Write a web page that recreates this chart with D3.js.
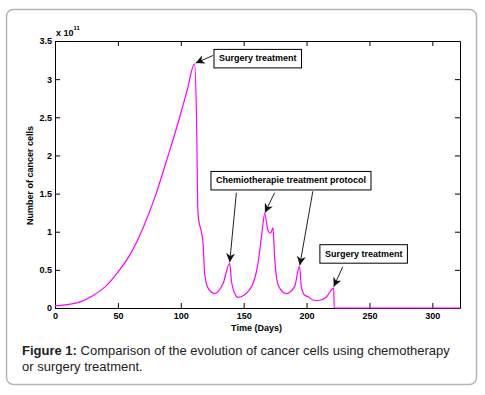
<!DOCTYPE html>
<html>
<head>
<meta charset="utf-8">
<script src="https://cdn.jsdelivr.net/npm/d3@7"></script>
<style>
  body { margin: 0; background: #fff; }
  text { font-family: "Liberation Sans", Arial, sans-serif; }
</style>
</head>
<body>
<script>
// Chart size
var w = 485;
var h = 395;

// Curve (days, cells in units of 1e11)
var days = [0, 10, 20, 30, 40, 50, 60, 70, 80, 90, 100, 105, 111,
    112.4, 113.7, 117.7, 119, 121.7, 127, 133.6, 138.9,
    140.2, 142.9, 145.5, 154.8, 161.4, 164.8, 166.7,
    169.3, 171.4, 173.3, 174.6, 176.4, 178.6, 183.9, 190.5, 194.4,
    195.8, 198.4, 201, 205, 209, 215.6, 221.6,
    222, 322];
var cells = [0.03, 0.045, 0.08, 0.16, 0.28, 0.47, 0.71, 1.05, 1.48, 2.0, 2.55, 2.85, 3.2,
    2.6, 1.24, 0.85, 0.45, 0.26, 0.19, 0.32, 0.585,
    0.37, 0.19, 0.14, 0.24, 0.585, 1.02, 1.24,
    1.02, 0.98, 1.05, 0.67, 0.37, 0.26, 0.19, 0.28, 0.55,
    0.28, 0.17, 0.15, 0.105, 0.095, 0.14, 0.26,
    0, 0];

var xTicks = [0, 50, 100, 150, 200, 250, 300];
var yTicks = [0, 0.5, 1, 1.5, 2, 2.5, 3, 3.5];

// Annotations: text box corner (day, value) and arrow tails / heads (day, value)
var noteLabels = ["Surgery treatment", "Chemiotherapie treatment protocol", "Surgery treatment"];
var noteBoxes = [[126.4, 3.39], [124, 1.79], [210.6, 0.83]];
var noteArrows = [
    [[[125.6, 3.31], [111.8, 3.21]]],
    [[[144.2, 1.51], [138.9, 0.60]], [[174.6, 1.51], [166.9, 1.25]], [[205, 1.53], [194.6, 0.56]]],
    [[[228.8, 0.54], [221.6, 0.28]]]
];

var margin = {left: 55, right: 25, top: 41, bottom: 87};

var xScale = d3.scaleLinear()
    .domain([0, 322])
    .range([margin.left, w - margin.right]);

var yScale = d3.scaleLinear()
    .domain([0, 3.5])
    .range([h - margin.bottom, margin.top]);

var svg = d3.select("body")
    .append("svg")
    .attr("width", w)
    .attr("height", h);

// outer rounded frame
svg.append("rect")
    .attr("x", 6.5)
    .attr("y", 9.5)
    .attr("width", 470)
    .attr("height", 375)
    .attr("rx", 7)
    .attr("fill", "#fff")
    .attr("stroke", "#b5b5b5")
    .attr("stroke-width", 1.5);

svg.append("defs")
    .append("marker")
    .attr("id", "head")
    .attr("viewBox", "0 0 10 10")
    .attr("refX", 10)
    .attr("refY", 5)
    .attr("markerWidth", 9)
    .attr("markerHeight", 9)
    .attr("markerUnits", "userSpaceOnUse")
    .attr("orient", "auto")
    .append("path")
    .attr("d", "M0,0 L10,5 L0,10 L3,5 Z")
    .attr("fill", "#111");

// axes, ticks pointing inward on all four sides
var xAxis = d3.axisBottom(xScale).tickValues(xTicks).tickSize(-5).tickSizeOuter(0).tickPadding(5);
var yAxis = d3.axisLeft(yScale).tickValues(yTicks).tickSize(-5).tickSizeOuter(0).tickPadding(3)
    .tickFormat(function(d) { return d; });
var xTop = d3.axisTop(xScale).tickValues(xTicks).tickSize(-5).tickSizeOuter(0).tickFormat("");
var yRight = d3.axisRight(yScale).tickValues(yTicks).tickSize(-5).tickSizeOuter(0).tickFormat("");

svg.append("g")
    .attr("transform", "translate(0," + yScale(0) + ")")
    .call(xAxis);
svg.append("g")
    .attr("transform", "translate(" + xScale(0) + ",0)")
    .call(yAxis);
svg.append("g")
    .attr("transform", "translate(0," + yScale(3.5) + ")")
    .call(xTop);
svg.append("g")
    .attr("transform", "translate(" + xScale(322) + ",0)")
    .call(yRight);

svg.selectAll(".tick text")
    .attr("font-size", 9)
    .attr("font-weight", "bold")
    .attr("fill", "#000")
    .attr("font-family", "Liberation Sans, Arial, sans-serif");
svg.selectAll(".domain, .tick line").attr("stroke", "#000");

// the curve
var line = d3.line()
    .x(function(d, i) { return xScale(days[i]); })
    .y(function(d) { return yScale(d); })
    .curve(d3.curveMonotoneX);

svg.append("path")
    .datum(cells)
    .attr("d", line)
    .attr("fill", "none")
    .attr("stroke", "#ff00ff")
    .attr("stroke-width", 1.2);

// exponent label
var expo = svg.append("text")
    .attr("x", xScale(0) + 1)
    .attr("y", yScale(3.5) - 5)
    .attr("font-size", 9)
    .attr("font-weight", "bold");
expo.append("tspan").text("x 10");
expo.append("tspan").attr("dy", -6).attr("font-size", 6).text("11");

// axis titles
svg.append("text")
    .attr("text-anchor", "middle")
    .attr("x", (xScale(0) + xScale(322)) / 2 - 1)
    .attr("y", h - margin.bottom + 23)
    .attr("font-size", 9)
    .attr("font-weight", "bold")
    .text("Time (Days)");

svg.append("text")
    .attr("text-anchor", "middle")
    .attr("transform", "rotate(-90)")
    .attr("x", -(yScale(0) + yScale(3.5)) / 2 - 1)
    .attr("y", 33)
    .attr("font-size", 9)
    .attr("font-weight", "bold")
    .text("Number of cancer cells");

// annotations
noteLabels.forEach(function(label, i) {
    var g = svg.append("g");
    var bx = xScale(noteBoxes[i][0]);
    var by = yScale(noteBoxes[i][1]);
    var t = g.append("text")
        .attr("x", bx + 5)
        .attr("y", by + 12)
        .attr("font-size", 9)
        .attr("font-weight", "bold")
        .text(label);
    var bb = t.node().getBBox();
    g.insert("rect", "text")
        .attr("x", bx)
        .attr("y", by)
        .attr("width", bb.width + 10)
        .attr("height", 18.5)
        .attr("fill", "#fff")
        .attr("stroke", "#000")
        .attr("stroke-width", 1);
    noteArrows[i].forEach(function(a) {
        svg.append("line")
            .attr("x1", xScale(a[0][0]))
            .attr("y1", yScale(a[0][1]))
            .attr("x2", xScale(a[1][0]))
            .attr("y2", yScale(a[1][1]))
            .attr("stroke", "#222")
            .attr("stroke-width", 1)
            .attr("marker-end", "url(#head)");
    });
});

// caption
var cap = svg.append("text")
    .attr("x", 22)
    .attr("y", 355)
    .attr("font-size", 13)
    .attr("fill", "#222");
cap.append("tspan").attr("font-weight", "bold").text("Figure 1: ");
cap.append("tspan").text("Comparison of the evolution of cancer cells using chemotherapy");
svg.append("text")
    .attr("x", 22)
    .attr("y", 371)
    .attr("font-size", 13)
    .attr("fill", "#222")
    .text("or surgery treatment.");
</script>
</body>
</html>
